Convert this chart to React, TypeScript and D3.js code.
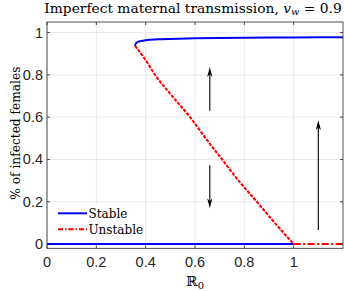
import * as d3 from "d3";

// data
const stableHighR0 = [0.357, 0.359, 0.363, 0.37, 0.38, 0.4, 0.45, 0.5, 0.6, 0.8, 1.0, 1.2];
const stableHigh = [0.937, 0.946, 0.952, 0.957, 0.96, 0.964, 0.968, 0.97, 0.973, 0.976, 0.977, 0.978];

const unstableR0 = [0.357, 0.4, 0.438, 0.5, 0.58, 0.65, 0.71, 0.78, 0.851, 0.925, 1.0];
const unstable = [0.937, 0.87, 0.8, 0.71, 0.6, 0.49, 0.4, 0.295, 0.2, 0.098, 0.0];

const stableLowR0 = [0, 1.0];
const stableLow = [0, 0];
const unstableLowR0 = [1.0, 1.2];
const unstableLow = [0, 0];

// arrows: [R0, from, to]
const arrows: [number, number, number][] = [
  [0.66, 0.63, 0.837],
  [0.66, 0.373, 0.169],
  [1.1, 0.067, 0.586],
];

const xTicks = [0, 0.2, 0.4, 0.6, 0.8, 1];
const yTicks = [0, 0.2, 0.4, 0.6, 0.8, 1];
const legendLabels = ["Stable", "Unstable"];

const W = 344;
const H = 291;
const m = { left: 47, right: 1, top: 22, bottom: 42.7 };

export default function App() {
  const x = d3.scaleLinear().domain([0, 1.2]).range([m.left, W - m.right]);
  const y = d3.scaleLinear().domain([-0.02, 1.05]).range([H - m.bottom, m.top]);

  const line = d3
    .line<[number, number]>()
    .x((d) => x(d[0]))
    .y((d) => y(d[1]))
    .curve(d3.curveMonotoneX);

  const zip = (a: number[], b: number[]) => a.map((v, i) => [v, b[i]] as [number, number]);

  const x0 = m.left;
  const x1 = W - m.right;
  const y0 = H - m.bottom;
  const y1 = m.top;
  const axisColor = "#262626";
  const gridColor = "#e3e3e3";
  const serif = "'DejaVu Serif', serif";
  const sans = "'Liberation Sans', Arial, sans-serif";

  const arrowHead = (ax: number, ay: number, dir: number) => {
    // dir: -1 points up, 1 points down
    const L = 10;
    const w = 2.6;
    const n = 3;
    return `M${ax},${ay} L${ax - w},${ay - dir * L} L${ax},${ay - dir * (L - n)} L${ax + w},${ay - dir * L} Z`;
  };

  return (
    <svg
      width={W}
      height={H}
      style={{ position: "absolute", left: 0, top: 0, background: "#fff" }}
    >
      <rect x={0} y={0} width={W} height={H} fill="#fff" />
      {/* grid */}
      {xTicks.map((t) => (
        <line key={"gx" + t} x1={x(t)} x2={x(t)} y1={y0} y2={y1} stroke={gridColor} strokeWidth={0.8} />
      ))}
      {yTicks.map((t) => (
        <line key={"gy" + t} x1={x0} x2={x1} y1={y(t)} y2={y(t)} stroke={gridColor} strokeWidth={0.8} />
      ))}

      {/* curves */}
      <path d={line(zip(stableLowR0, stableLow)) || ""} fill="none" stroke="#0000ff" strokeWidth={2} />
      <path
        d={line(zip(unstableLowR0, unstableLow)) || ""}
        fill="none"
        stroke="#ff0000"
        strokeWidth={2}
        strokeDasharray="7,2.5,2,2.5"
      />
      <path
        d={line(zip(unstableR0, unstable)) || ""}
        fill="none"
        stroke="#ff0000"
        strokeWidth={2.1}
        strokeDasharray="3.4,1.3"
      />
      <path d={line(zip(stableHighR0, stableHigh)) || ""} fill="none" stroke="#0000ff" strokeWidth={2} />

      {/* arrows */}
      {arrows.map(([r, a, b], i) => {
        const dir = b > a ? -1 : 1;
        const ax = x(r);
        const tip = y(b);
        return (
          <g key={"ar" + i}>
            <line x1={ax} x2={ax} y1={y(a)} y2={tip - dir * 7} stroke="#000" strokeWidth={1.1} />
            <path d={arrowHead(ax, tip, dir)} fill="#000" />
          </g>
        );
      })}

      {/* axes box and ticks */}
      <rect x={x0} y={y1} width={x1 - x0} height={y0 - y1} fill="none" stroke={axisColor} strokeWidth={0.8} />
      {xTicks.map((t) => (
        <g key={"tx" + t}>
          <line x1={x(t)} x2={x(t)} y1={y0} y2={y0 - 3} stroke={axisColor} strokeWidth={0.8} />
          <line x1={x(t)} x2={x(t)} y1={y1} y2={y1 + 3} stroke={axisColor} strokeWidth={0.8} />
          <text x={x(t)} y={267} textAnchor="middle" fontFamily={sans} fontSize={14.5} fill={axisColor}>
            {t}
          </text>
        </g>
      ))}
      {yTicks.map((t) => (
        <g key={"ty" + t}>
          <line x1={x0} x2={x0 + 3} y1={y(t)} y2={y(t)} stroke={axisColor} strokeWidth={0.8} />
          <line x1={x1} x2={x1 - 3} y1={y(t)} y2={y(t)} stroke={axisColor} strokeWidth={0.8} />
          <text x={43} y={y(t) + 5} textAnchor="end" fontFamily={sans} fontSize={14.5} fill={axisColor}>
            {t}
          </text>
        </g>
      ))}

      {/* legend */}
      <rect x={52} y={204} width={92} height={34} fill="#fff" />
      {legendLabels.map((lab, i) => (
        <g key={lab} transform={`translate(0,${213.3 + i * 16})`}>
          <line
            x1={58}
            x2={87}
            y1={0}
            y2={0}
            stroke={i === 0 ? "#0000ff" : "#ff0000"}
            strokeWidth={2}
            strokeDasharray={i === 0 ? undefined : "5,2,1.5,2"}
          />
          <text x={88.5} y={4.3} fontFamily={serif} fontSize={12} fill="#000">
            {lab}
          </text>
        </g>
      ))}

      {/* labels */}
      <text x={(x0 + x1) / 2 - 2} y={12.7} textAnchor="middle" fontFamily={serif} fontSize={13.8} fill="#000">
        Imperfect maternal transmission,{" "}
        <tspan fontStyle="italic">v</tspan>
        <tspan fontStyle="italic" fontSize={9.8} dy={2.5}>w</tspan>
        <tspan dy={-2.5}> = 0.9</tspan>
      </text>
      <text
        transform={`translate(19.5,${(y0 + y1) / 2 - 2}) rotate(-90)`}
        textAnchor="middle"
        fontFamily={serif}
        fontSize={12.2}
        fill="#000"
      >
        % of infected females
      </text>
      <text x={(x0 + x1) / 2} y={286} textAnchor="middle" fontFamily={serif} fontSize={14} fill="#000">
        ℝ<tspan fontSize={10} dy={3}>0</tspan>
      </text>
    </svg>
  );
}
